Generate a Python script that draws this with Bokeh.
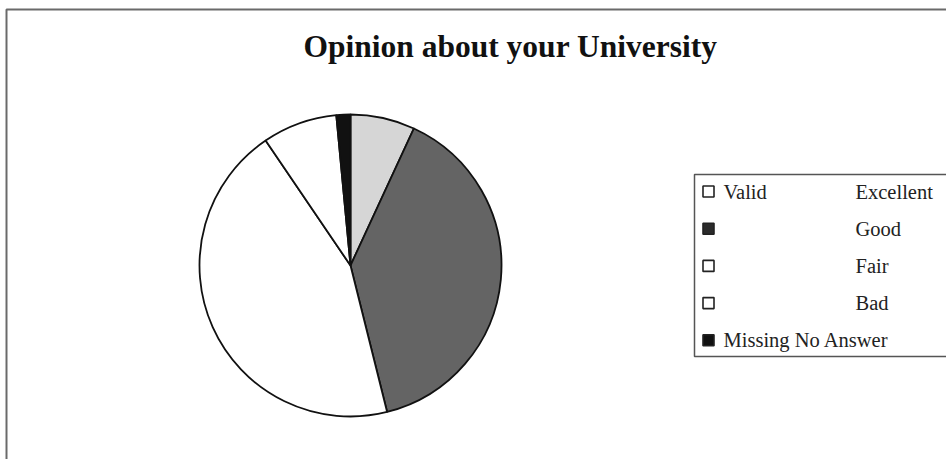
import numpy as np
from bokeh.plotting import figure
from bokeh.models import Range1d, ColumnDataSource
from bokeh.core.properties import value
from bokeh.embed import file_html
from bokeh.resources import INLINE

# ---- data ----
title = "Opinion about your University"
categories = ["Excellent", "Good", "Fair", "Bad", "No Answer"]
groups = ["Valid", "", "", "", "Missing"]
percents = [6.9, 39.2, 44.4, 8.0, 1.5]
slice_colors = ["#d6d6d6", "#646464", "#ffffff", "#ffffff", "#111111"]
legend_colors = ["#ffffff", "#2b2b2b", "#ffffff", "#ffffff", "#111111"]

W, H = 946, 459
p = figure(width=W, height=H, output_backend="svg", toolbar_location=None,
           x_range=Range1d(0, W), y_range=Range1d(0, H), min_border=0)
p.axis.visible = False
p.grid.visible = False
p.outline_line_color = None
p.background_fill_color = "white"
p.border_fill_color = "white"

def Y(py):
    return H - py

# frame lines
p.line([6, 6, W], [Y(H), Y(9), Y(9)], line_color="#6a6a6a", line_width=2)

# title
p.text(x=[510], y=[Y(46)], text=[title], text_font=value("Liberation Serif"),
       text_font_style="bold", text_font_size="31.5px", text_align="center",
       text_baseline="middle", text_color="#111111")

# pie
vals = np.array(percents, dtype=float)
frac = vals / vals.sum()
cum = np.concatenate([[0.0], np.cumsum(frac)])
start = np.pi / 2 - 2 * np.pi * cum[:-1]
end = np.pi / 2 - 2 * np.pi * cum[1:]
src = ColumnDataSource(dict(start=start, end=end, color=slice_colors, cat=categories))
p.wedge(x=350, y=Y(265), radius=151, start_angle="start", end_angle="end",
        direction="clock", fill_color="color", line_color="#111111",
        line_width=1.8, source=src)

# legend box
p.line([W, 694, 694, W], [Y(174), Y(174), Y(356), Y(356)],
       line_color="#555555", line_width=1.5)

n = len(categories)
row_y = [Y(191 + 37.2 * i) for i in range(n)]
left_labels = []
right_labels = []
for g, c in zip(groups, categories):
    if g == "Missing":
        left_labels.append(g + " " + c)
        right_labels.append("")
    else:
        left_labels.append(g)
        right_labels.append(c)

p.rect(x=[708] * n, y=row_y, width=11, height=11, fill_color=legend_colors,
       line_color="#222222", line_width=1.6)
p.text(x=[723] * n, y=row_y, text=left_labels, text_font=value("Liberation Serif"),
       text_font_size="20.5px", text_baseline="middle", text_color="#222222")
p.text(x=[855] * n, y=row_y, text=right_labels, text_font=value("Liberation Serif"),
       text_font_size="20.5px", text_baseline="middle", text_color="#222222")

open("out.html", "w").write(file_html(p, INLINE))
